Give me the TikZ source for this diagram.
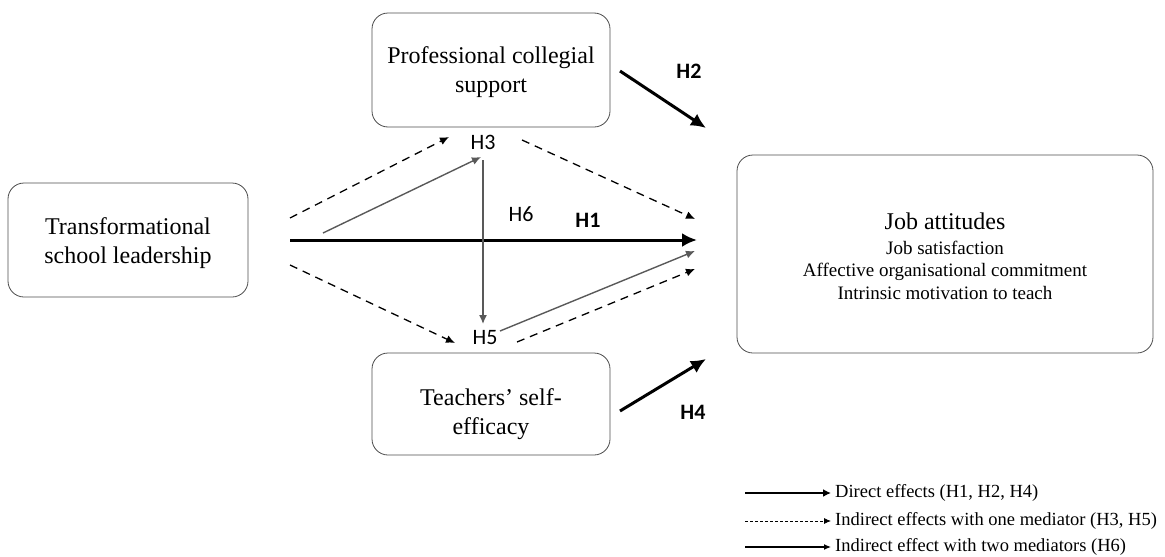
\documentclass[tikz,border=0pt]{standalone}
\usepackage{fontspec}
\setmainfont{Liberation Serif}
\newfontfamily\calib{Carlito}
\usetikzlibrary{arrows.meta}
\tikzset{
  box/.style={draw=black!70, line width=0.8pt, rounded corners=16pt, inner sep=0pt},
  txt/.style={font=\fontsize{24}{29}\selectfont, align=center, inner sep=0pt},
  hlab/.style={font=\calib\fontsize{22}{24}\selectfont, inner sep=0pt},
  hbold/.style={font=\calib\bfseries\fontsize{22}{24}\selectfont, inner sep=0pt},
  direct/.style={line width=3pt, -{Latex[length=15pt,width=14pt]}},
  ind/.style={line width=1.3pt, dash pattern=on 8pt off 6pt, -{Latex[length=9pt,width=8pt]}},
  two/.style={line width=1.4pt, draw=black!65, -{Latex[length=9pt,width=8pt]}, black!65},
  legtxt/.style={font=\fontsize{18.5}{21}\selectfont, anchor=west, inner sep=0pt},
}
\begin{document}
\begin{tikzpicture}[x=1pt,y=-1pt]
\useasboundingbox (0,0) rectangle (1165,557);
% boxes
\node[box, minimum width=240pt, minimum height=114pt] (tsl) at (128,240) {};
\node[txt] (tslt) at (128,243) {Transformational\\school leadership};
\node[box, minimum width=238pt, minimum height=114pt] (pcs) at (491,70) {};
\node[txt] (pcst) at (491,72) {Professional collegial\\support};
\node[box, minimum width=238pt, minimum height=102pt] (tse) at (491,404) {};
\node[txt] (tset) at (491,414) {Teachers' self-\\efficacy};
\node[box, minimum width=416pt, minimum height=198pt] (ja) at (945,254) {};
\node[font=\fontsize{24}{25}\selectfont, inner sep=0pt] (jat) at (945,221) {Job attitudes};
\node[font=\fontsize{19}{22.5}\selectfont, align=center, inner sep=0pt] (jas) at (945,270) {Job satisfaction\\Affective organisational commitment\\Intrinsic motivation to teach};
% labels
\node[hlab] (h3) at (483,142) {H3};
\node[hlab] (h5) at (485,338) {H5};
\node[hlab] (h6) at (521,214) {H6};
\node[hbold] (h1) at (588,220) {H1};
\node[hbold] (h2) at (689,71) {H2};
\node[hbold] (h4) at (693,412) {H4};
% coordinates
\coordinate (s1) at (290,240); \coordinate (e1) at (697,240);
\coordinate (du0) at (290,218); \coordinate (du1) at (449,137);
\coordinate (du2) at (522,140); \coordinate (du3) at (695,219);
\coordinate (dd0) at (290,265); \coordinate (dd1) at (455,343);
\coordinate (dd2) at (517,342); \coordinate (dd3) at (695,269);
\coordinate (g0) at (323,233); \coordinate (g1) at (481,157);
\coordinate (g2) at (483,160); \coordinate (g3) at (483,324);
\coordinate (g4) at (500,331); \coordinate (g5) at (695,251);
\coordinate (a2s) at (620,71); \coordinate (a2e) at (706,128);
\coordinate (a4s) at (620,411); \coordinate (a4e) at (706,359);
% arrows
\draw[direct] (s1) -- (e1);
\draw[ind] (du0) -- (du1);
\draw[ind] (du2) -- (du3);
\draw[ind] (dd0) -- (dd1);
\draw[ind] (dd2) -- (dd3);
\draw[two] (g0) -- (g1);
\draw[two] (g2) -- (g3);
\draw[two] (g4) -- (g5);
\draw[direct] (a2s) -- (a2e);
\draw[direct] (a4s) -- (a4e);
% legend
\coordinate (l1s) at (745,493); \coordinate (l1e) at (831,493);
\coordinate (l2s) at (745,521); \coordinate (l2e) at (831,521);
\coordinate (l3s) at (745,547); \coordinate (l3e) at (831,547);
\draw[line width=2.4pt, -{Latex[length=8pt,width=8pt]}] (l1s) -- (l1e);
\draw[line width=0.8pt, dash pattern=on 3pt off 2pt, -{Latex[length=7pt,width=6pt]}] (l2s) -- (l2e);
\draw[line width=1.2pt, -{Latex[length=7pt,width=6pt]}] (l3s) -- (l3e);
\node[legtxt] (lt1) at (835,493) {Direct effects (H1, H2, H4)};
\node[legtxt] (lt2) at (835,521) {Indirect effects with one mediator (H3, H5)};
\node[legtxt] (lt3) at (835,547) {Indirect effect with two mediators (H6)};
\end{tikzpicture}
\end{document}
